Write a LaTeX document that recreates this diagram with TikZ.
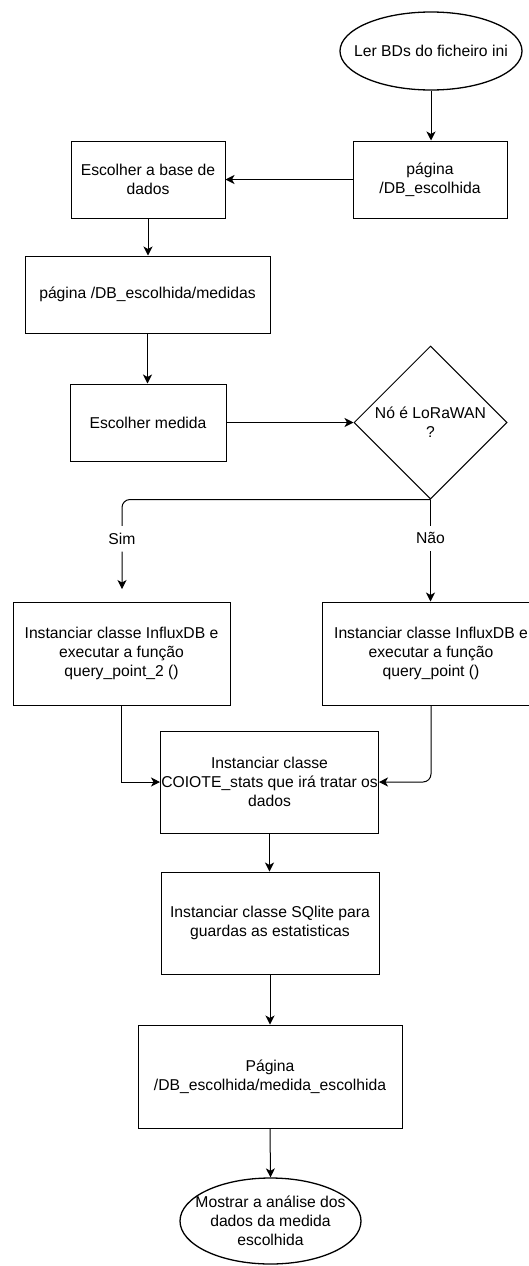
\documentclass[tikz,border=0pt]{standalone}
\usepackage{fontspec}
\setmainfont{Liberation Sans}
\usetikzlibrary{arrows.meta,shapes.geometric}

\begin{document}
\begin{tikzpicture}[x=1pt,y=-1pt,
  every node/.style={font=\fontsize{15.7}{19}\selectfont, align=center, inner sep=0pt},
  box/.style={draw, line width=1pt, rectangle},
  term/.style={draw, line width=1.3pt, ellipse, inner xsep=-14pt},
  cond/.style={draw, line width=1pt, diamond},
  arr/.style={draw, line width=1pt, -{Stealth[length=9pt,width=9pt,inset=2.5pt]}},
  lbl/.style={fill=white, inner xsep=2pt, inner ysep=7pt}]

  % page area
  \clip (0,0) rectangle (529,1266);
  \fill[white] (0,0) rectangle (529,1266);

  % nodes
  \node[term, minimum width=182pt, minimum height=78pt] (start) at (431,51) {Ler BDs do ficheiro ini};
  \node[box, minimum width=154pt, minimum height=77pt] (pag) at (430,179.5) {página\\/DB\_escolhida};
  \node[box, minimum width=154pt, minimum height=77pt] (esc) at (148,179.5) {Escolher a base de\\dados};
  \node[box, minimum width=245pt, minimum height=77pt] (med) at (147.5,294.5) {página /DB\_escolhida/medidas};
  \node[box, minimum width=156pt, minimum height=77pt] (escm) at (148,422.5) {Escolher medida};
  \node[cond, minimum width=153pt, minimum height=153pt] (dec) at (430.5,422.5) {Nó é LoRaWAN\\?};
  \node[box, minimum width=217pt, minimum height=103pt] (inL) at (121.5,653.5) {Instanciar classe InfluxDB e\\executar a função\\query\_point\_2 ()};
  \node[box, minimum width=218pt, minimum height=103pt] (inR) at (431,653.5) {Instanciar classe InfluxDB e\\executar a função\\query\_point ()};
  \node[box, minimum width=218pt, minimum height=102pt] (coi) at (269.5,782) {Instanciar classe\\COIOTE\_stats que irá tratar os\\dados};
  \node[box, minimum width=218pt, minimum height=102pt] (sql) at (270,923) {Instanciar classe SQlite para\\guardas as estatisticas};
  \node[box, minimum width=264pt, minimum height=103pt] (pagF) at (270,1076.5) {Página\\/DB\_escolhida/medida\_escolhida};
  \node[term, minimum width=181pt, minimum height=86pt] (end) at (270.5,1221) {Mostrar a análise dos\\dados da medida\\escolhida};

  \coordinate (simend) at (122,589);

  % connectors
  \draw[arr] (start.south) -- (start.south |- pag.north);
  \draw[arr] (pag.west) -- (esc.east);
  \draw[arr] (esc.south) -- (esc.south |- med.north);
  \draw[arr] (med.south) -- (med.south |- escm.north);
  \draw[arr] (escm.east) -- (dec.west);
  \draw[arr, rounded corners=8pt] (dec.south) -| node[lbl, pos=0.72] {Sim} (simend);
  \draw[arr] (dec.south) -- node[lbl, pos=0.38] {Não} (dec.south |- inR.north);
  \draw[arr] (inL.south) |- (coi.west);
  \draw[arr, rounded corners=8pt] (inR.south) |- (coi.east);
  \draw[arr] (coi.south) -- (coi.south |- sql.north);
  \draw[arr] (sql.south) -- (pagF.north);
  \draw[arr] (pagF.south) -- (end.north);
\end{tikzpicture}
\end{document}
